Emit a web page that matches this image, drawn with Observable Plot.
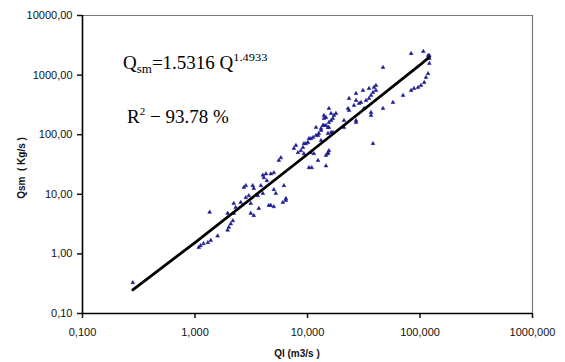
<!DOCTYPE html>
<html><head><meta charset="utf-8">
<script src="https://cdn.jsdelivr.net/npm/d3@7"></script>
<script src="https://cdn.jsdelivr.net/npm/@observablehq/plot@0.6"></script>
<style>body{margin:0;background:#fff}</style>
</head><body><div id="chart"></div>
<script>
// Observed liquid discharge Ql (m3/s)
const qlValues = [
 0.28, 1.08, 1.12, 1.19, 1.30, 1.38, 1.35, 1.59, 1.95, 2.0, 2.08, 2.17, 1.95, 2.21, 2.21, 2.30, 2.55,
 2.72, 2.83, 2.83, 3.01, 3.13, 3.13, 3.33, 3.69, 3.26, 3.33, 3.62, 3.85, 4.01, 4.09, 4.35, 4.01, 4.27,
 4.53, 4.72, 5.02, 5.23, 5.02, 4.72, 5.02, 6.04, 6.43, 6.17, 6.43, 5.56, 5.80, 7.57, 7.89, 8.22, 8.74,
 9.29, 10.1, 10.7, 11.9, 12.6, 13.2, 11.9, 13.2, 14.0, 15.2, 15.5, 14.0, 16.2, 16.8, 10.3, 10.9, 12.4,
 14.6, 15.2, 15.5, 9.29, 9.11, 9.68, 10.3, 11.2, 12.4, 13.2, 14.6, 15.2, 10.7, 11.4, 15.2, 16.8, 15.5,
 14.0, 17.2, 16.2, 17.9, 21.1, 21.1, 27.0, 27.0, 23.4, 27.0, 29.9, 33.1, 35.2, 23.4, 25.9, 28.7, 31.8,
 36.7, 36.7, 36.7, 27.0, 31.1, 35.2, 39.0, 40.6, 38.2, 40.6, 38.2, 46.9, 46.9, 57.5, 70.7, 83.4, 88.5,
 96.1, 102, 109, 113, 118, 121, 121, 121, 118, 83.4, 107, 22.9, 14.6, 13.7, 14.6, 15.5, 16.2
];
// Observed suspended sediment discharge Qsm (Kg/s)
const qsmValues = [
 0.33, 1.28, 1.38, 1.49, 1.55, 1.68, 5.0, 2.0, 2.5, 2.8, 3.2, 3.6, 4.8, 4.8, 7.0, 6.0, 7.3,
 13, 14, 8.8, 9.5, 7.0, 4.8, 4.4, 5.8, 14, 12.5, 9.5, 14, 21, 19, 17, 10.3, 22,
 6.5, 22, 23, 10.3, 12, 6.5, 6.2, 7.3, 7.9, 14, 8.5, 37, 41, 59, 66, 50, 54,
 71, 74, 86, 97, 105, 80, 132, 127, 143, 132, 160, 210, 227, 187, 28, 28, 37,
 30, 48, 54, 48, 61, 71, 86, 90, 97, 118, 45, 50, 50, 48, 105, 109, 275,
 187, 210, 173, 227, 173, 132, 173, 160, 405, 375, 347, 375, 405, 255, 309, 334, 275,
 210, 236, 455, 491, 552, 596, 620, 552, 511, 670, 71, 1340, 275, 347, 455, 552, 596,
 620, 670, 752, 912, 1060, 1570, 1900, 2130, 2130, 2300, 2490, 275, 194, 143, 143, 132, 109
];
// Fitted power-law trend line
const fitQl = [0.28, 1, 10, 100, 121];
const fitQsm = [0.25, 1.55, 47, 1480, 2000];

const xTicks = [0.1, 1, 10, 100, 1000];
const yTicks = [0.1, 1, 10, 100, 1000, 10000];
const xLabel = "Ql (m3/s )";
const yLabel = "Qsm  ( Kg/s )";

const points = qlValues.map((q, i) => ({ql: q, qsm: qsmValues[i]}));
const fit = fitQl.map((q, i) => ({ql: q, qsm: fitQsm[i]}));
const comma = (f) => (d) => d3.format(f)(d).replace(".", ",");

const plot = Plot.plot({
  width: 565, height: 362,
  marginLeft: 82, marginRight: 33, marginTop: 15, marginBottom: 49,
  style: {fontFamily: "'Liberation Sans', Arial, sans-serif", fontSize: "11px", color: "#111", background: "#fff"},
  x: {type: "log", domain: [0.1, 1000]},
  y: {type: "log", domain: [0.1, 10000]},
  marks: [
    Plot.ruleY([10000], {stroke: "#7a7a7a", strokeWidth: 1.2}),
    Plot.ruleX([1000], {stroke: "#7a7a7a", strokeWidth: 1.2}),
    Plot.dot(points, {x: "ql", y: "qsm", symbol: "triangle", r: 1.4, fill: "#1a1a90", stroke: "#1a1a90", strokeWidth: 0.5}),
    Plot.line(fit, {x: "ql", y: "qsm", stroke: "#000", strokeWidth: 2.8}),
    Plot.axisX({ticks: xTicks, tickFormat: comma(".3f"), tickSize: 5, tickPadding: 10, label: null, strokeWidth: 1.5}),
    Plot.axisY({ticks: yTicks, tickFormat: comma(".2f"), tickSize: 5, tickPadding: 5, label: null, strokeWidth: 1.5}),
    Plot.ruleX([0.1], {stroke: "#000", strokeWidth: 1.6}),
    Plot.ruleY([0.1], {stroke: "#000", strokeWidth: 1.6})
  ]
});

const svg = d3.select(plot);
// axis titles
svg.append("text")
  .attr("x", 297).attr("y", 357).attr("text-anchor", "middle")
  .attr("font-family", "'Liberation Sans', Arial, sans-serif").attr("font-size", 10).attr("font-weight", "bold")
  .attr("fill", "#111").text(xLabel);
svg.append("text")
  .attr("transform", "translate(25,168) rotate(-90)").attr("text-anchor", "middle")
  .attr("font-family", "'Liberation Sans', Arial, sans-serif").attr("font-size", 10).attr("font-weight", "bold")
  .attr("fill", "#111").text(yLabel);

// equation annotation
const serif = "'Liberation Serif', 'Times New Roman', serif";
const eq = svg.append("text").attr("x", 123).attr("y", 69).attr("text-anchor", "start")
  .attr("font-family", serif).attr("font-size", 19).attr("fill", "#000");
eq.append("tspan").text("Q");
eq.append("tspan").attr("font-size", 13).attr("dy", 4).text("sm");
eq.append("tspan").attr("dy", -4).text("=1.5316 Q");
eq.append("tspan").attr("font-size", 11).attr("dy", -8)
  .attr("textLength", 34).attr("lengthAdjust", "spacingAndGlyphs").text("1.4933");

const r2 = svg.append("text").attr("x", 127).attr("y", 123).attr("text-anchor", "start")
  .attr("font-family", serif).attr("font-size", 19).attr("fill", "#000");
r2.append("tspan").text("R");
r2.append("tspan").attr("font-size", 11).attr("dy", -8).text("2");
r2.append("tspan").attr("dy", 8).text(" \u2212 93.78 %");

document.getElementById("chart").appendChild(plot);
</script>
</body></html>
